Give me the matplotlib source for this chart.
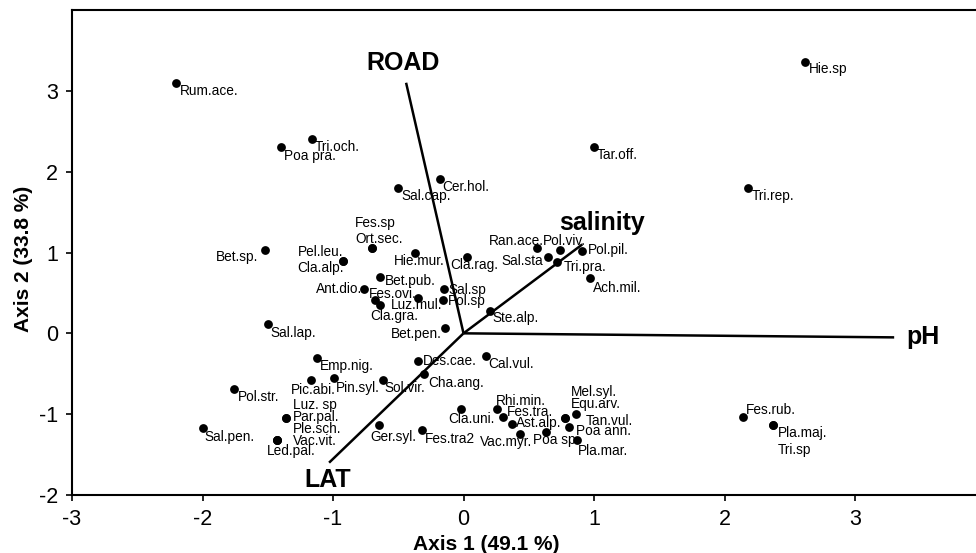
import matplotlib
matplotlib.use("Agg")
import matplotlib.pyplot as plt

plt.rcParams['font.family'] = ['Liberation Sans', 'DejaVu Sans']
plt.rcParams['axes.unicode_minus'] = False

# species scores (axis 1, axis 2)
species = ['Rum.ace.', 'Poa pra.', 'Tri.och.', 'Cer.hol.', 'Sal.cap.', 'Fes.sp', 'Ort.sec.',
           'Bet.sp.', 'Pel.leu.', 'Cla.alp.', 'Hie.mur.', 'Cla.rag.', 'Bet.pub.', 'Ant.dio.',
           'Fes.ovi.', 'Cla.gra.', 'Luz.mul.', 'Sal.sp', 'Pol.sp', 'Bet.pen.', 'Sal.lap.',
           'Ran.ace.', 'Pol.viv.', 'Pol.pil.', 'Sal.sta', 'Tri.pra.', 'Ach.mil.', 'Ste.alp.',
           'Tar.off.', 'Hie.sp', 'Tri.rep.', 'Des.cae.', 'Cal.vul.', 'Cha.ang.', 'Emp.nig.',
           'Pic.abi.', 'Pin.syl.', 'Sol.vir.', 'Pol.str.', 'Luz. sp', 'Par.pal.', 'Sal.pen.',
           'Ple.sch.', 'Vac.vit.', 'Led.pal.', 'Ger.syl.', 'Fes.tra2', 'Cla.uni.', 'Rhi.min.',
           'Fes.tra.', 'Ast.alp.', 'Vac.myr.', 'Poa sp', 'Mel.syl.', 'Equ.arv.', 'Tan.vul.',
           'Poa ann.', 'Pla.mar.', 'Fes.rub.', 'Pla.maj.', 'Tri.sp']
ax1 = [-2.20, -1.40, -1.16, -0.18, -0.50, -0.70, -0.70,
       -1.52, -0.92, -0.92, -0.37, 0.03, -0.64, -0.76,
       -0.68, -0.64, -0.35, -0.15, -0.16, -0.14, -1.50,
       0.56, 0.74, 0.91, 0.65, 0.72, 0.97, 0.20,
       1.00, 2.62, 2.18, -0.35, 0.17, -0.30, -1.12,
       -1.17, -0.99, -0.62, -1.76, -1.36, -1.36, -2.00,
       -1.43, -1.43, -1.43, -0.65, -0.32, -0.02, 0.26,
       0.30, 0.37, 0.43, 0.63, 0.78, 0.78, 0.86,
       0.81, 0.87, 2.14, 2.37, 2.37]
ax2 = [3.10, 2.31, 2.41, 1.91, 1.80, 1.05, 1.05,
       1.03, 0.90, 0.90, 0.99, 0.95, 0.70, 0.55,
       0.41, 0.35, 0.44, 0.55, 0.41, 0.07, 0.11,
       1.06, 1.03, 1.02, 0.94, 0.88, 0.68, 0.28,
       2.30, 3.36, 1.80, -0.34, -0.28, -0.50, -0.31,
       -0.58, -0.55, -0.58, -0.69, -1.05, -1.05, -1.17,
       -1.32, -1.32, -1.32, -1.14, -1.19, -0.93, -0.93,
       -1.04, -1.12, -1.25, -1.22, -1.05, -1.05, -1.00,
       -1.16, -1.32, -1.03, -1.14, -1.14]

# environmental vectors
env_names = ['ROAD', 'salinity', 'pH', 'LAT']
env_x = [-0.44, 0.91, 3.30, -1.03]
env_y = [3.10, 1.10, -0.05, -1.60]

# label placement (pixel offsets from point, ha)
lab_off = {
    'Rum.ace.': (3, 8), 'Poa pra.': (3, 9), 'Tri.och.': (3, 8), 'Cer.hol.': (2, 8),
    'Sal.cap.': (3, 8), 'Fes.sp': (-17, -25), 'Ort.sec.': (-17, -9), 'Bet.sp.': (-7, 7, 'right'),
    'Pel.leu.': (-46, -9), 'Cla.alp.': (-46, 7), 'Hie.mur.': (-21, 8), 'Cla.rag.': (-17, 8),
    'Bet.pub.': (5, 4), 'Ant.dio.': (-2, 0, 'right'), 'Fes.ovi.': (-6, -6), 'Cla.gra.': (-10, 11),
    'Luz.mul.': (-27, 7), 'Sal.sp': (5, 1), 'Pol.sp': (5, 1), 'Bet.pen.': (-3, 6, 'right'),
    'Sal.lap.': (3, 9), 'Ran.ace.': (-48, -7), 'Pol.viv.': (-17, -9), 'Pol.pil.': (6, -1),
    'Sal.sta': (-5, 4, 'right'), 'Tri.pra.': (6, 5), 'Ach.mil.': (3, 10), 'Ste.alp.': (3, 7),
    'Tar.off.': (3, 8), 'Hie.sp': (3, 7), 'Tri.rep.': (4, 8), 'Des.cae.': (5, 0),
    'Cal.vul.': (3, 8), 'Cha.ang.': (4, 9), 'Emp.nig.': (3, 8), 'Pic.abi.': (-20, 10),
    'Pin.syl.': (2, 10), 'Sol.vir.': (2, 8), 'Pol.str.': (4, 8), 'Luz. sp': (7, -13),
    'Par.pal.': (7, -1), 'Sal.pen.': (2, 9), 'Ple.sch.': (16, -11), 'Vac.vit.': (16, 1),
    'Led.pal.': (-10, 11), 'Ger.syl.': (-8, 12), 'Fes.tra2': (3, 9), 'Cla.uni.': (-13, 10),
    'Rhi.min.': (-2, -8), 'Fes.tra.': (4, -5), 'Ast.alp.': (4, -1), 'Vac.myr.': (-40, 8),
    'Poa sp': (-13, 8), 'Mel.syl.': (6, -26), 'Equ.arv.': (6, -14), 'Tan.vul.': (10, 7),
    'Poa ann.': (7, 4), 'Pla.mar.': (1, 11), 'Fes.rub.': (3, -7), 'Pla.maj.': (5, 8),
    'Tri.sp': (5, 25),
}
env_off = {'ROAD': (-3, -20, 'center'), 'salinity': (20, -21, 'center'),
           'pH': (12, 0, 'left'), 'LAT': (-1, 17, 'center')}

PX = 72 / 100.0

fig = plt.figure(figsize=(9.76, 5.53), dpi=100)
ax = fig.add_axes([72 / 976, 1 - 495 / 553, 904 / 976, 485 / 553])

for name, ex, ey in zip(env_names, env_x, env_y):
    ax.plot([0, ex], [0, ey], color='black', lw=1.8, solid_capstyle='butt', zorder=2)
    o = env_off[name]
    ax.annotate(name, (ex, ey), xytext=(o[0] * PX, -o[1] * PX), textcoords='offset points',
                ha=o[2], va='center', fontsize=18, fontweight='bold')

ax.scatter(ax1, ax2, s=40, color='black', zorder=3, linewidths=0)
for name, x, y in zip(species, ax1, ax2):
    o = lab_off[name]
    ha = o[2] if len(o) > 2 else 'left'
    ax.annotate(name, (x, y), xytext=(o[0] * PX, -o[1] * PX), textcoords='offset points',
                ha=ha, va='center', fontsize=9.8)

ax.set_xlim(-3, 3.927)
ax.set_ylim(-2, 4)
ax.set_xticks(range(-3, 4))
ax.set_yticks(range(-2, 4))
ax.tick_params(direction='out', length=4, width=1.2, labelsize=15.5, pad=6)
ax.spines['right'].set_visible(False)
for s in ['left', 'top', 'bottom']:
    ax.spines[s].set_linewidth(1.5)

ax.set_xlabel('Axis 1 (49.1 %)', fontsize=15, fontweight='bold')
ax.xaxis.set_label_coords((486 - 72) / 904, -(544 - 495) / 485)
ax.xaxis.label.set_va('center')
ax.set_ylabel('Axis 2 (33.8 %)', fontsize=15, fontweight='bold')
ax.yaxis.set_label_coords(-(72 - 24) / 904, (495 - 259) / 485)
ax.yaxis.label.set_va('center')

fig.savefig('out.png', dpi=100)
